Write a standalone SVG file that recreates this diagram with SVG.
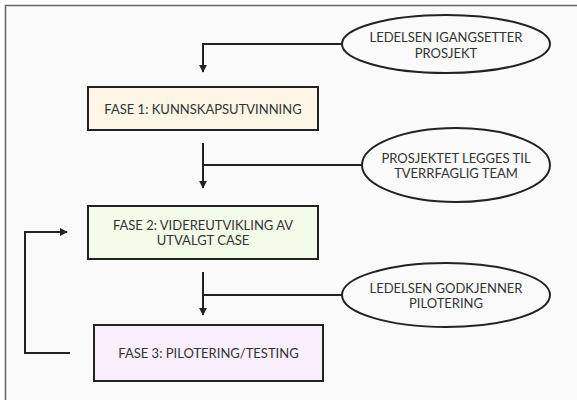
<svg xmlns="http://www.w3.org/2000/svg" width="577" height="400" viewBox="0 0 577 400">
  <style>
    .node { stroke: #222; stroke-width: 2; }
    .oval { fill: #fafafa; stroke: #222; stroke-width: 2; }
    .lbl { font-family: "Lato", "Liberation Sans", sans-serif; font-size: 13px; fill: #333; text-anchor: middle; dominant-baseline: central; }
    .wire { fill: none; stroke: #222; stroke-width: 2; }
  </style>
  <defs>
    <marker id="arrow" viewBox="0 0 10 10" refX="9" refY="5" markerWidth="4" markerHeight="4" orient="auto" markerUnits="strokeWidth">
      <path d="M0,0 L10,5 L0,10 z" fill="#222"/>
    </marker>
  </defs>

  <!-- canvas frame -->
  <rect x="0" y="0" width="577" height="400" fill="#ffffff"/>
  <rect x="5.5" y="5.5" width="600" height="420" fill="#fafafa" stroke="#666" stroke-width="1.5"/>

  <!-- connectors -->
  <g id="connectors">
    <path class="wire" d="M342,44 H203 V72" marker-end="url(#arrow)"/>
    <path class="wire" d="M203,143 V188" marker-end="url(#arrow)"/>
    <path class="wire" d="M203,165 H362"/>
    <path class="wire" d="M203,272 V315" marker-end="url(#arrow)"/>
    <path class="wire" d="M203,295 H342"/>
    <path class="wire" d="M70,353 H25 V232 H67" marker-end="url(#arrow)"/>
  </g>

  <g id="start">
    <ellipse class="oval" cx="446" cy="44" rx="104" ry="29"/>
    <text class="lbl" x="446" y="37">LEDELSEN IGANGSETTER</text>
    <text class="lbl" x="446" y="53">PROSJEKT</text>
  </g>

  <g id="phase1">
    <rect class="node" x="88" y="87" width="230" height="43" fill="#fdf6e6"/>
    <text class="lbl" x="203" y="108.5">FASE 1: KUNNSKAPSUTVINNING</text>
  </g>

  <g id="team">
    <ellipse class="oval" cx="456" cy="165" rx="94" ry="37"/>
    <text class="lbl" x="456" y="158">PROSJEKTET LEGGES TIL</text>
    <text class="lbl" x="456" y="173">TVERRFAGLIG TEAM</text>
  </g>

  <g id="phase2">
    <rect class="node" x="88" y="206" width="230" height="53" fill="#f3fbe9"/>
    <text class="lbl" x="203" y="225">FASE 2: VIDEREUTVIKLING AV</text>
    <text class="lbl" x="203" y="240">UTVALGT CASE</text>
  </g>

  <g id="approval">
    <ellipse class="oval" cx="446" cy="295" rx="104" ry="32"/>
    <text class="lbl" x="446" y="288">LEDELSEN GODKJENNER</text>
    <text class="lbl" x="446" y="303">PILOTERING</text>
  </g>

  <g id="phase3">
    <rect class="node" x="94" y="325" width="229" height="56" fill="#f8eefc"/>
    <text class="lbl" x="208.5" y="353">FASE 3: PILOTERING/TESTING</text>
  </g>
</svg>
